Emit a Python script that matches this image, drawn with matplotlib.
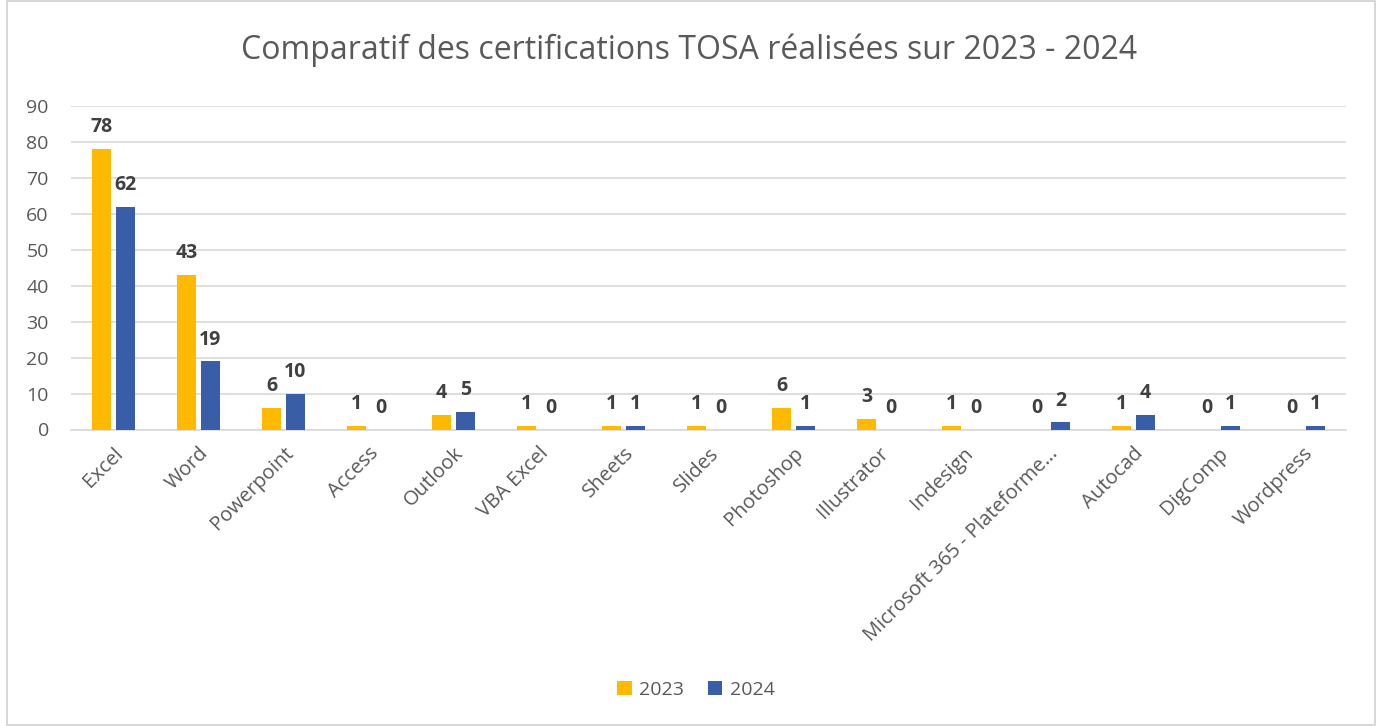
import matplotlib.pyplot as plt
import numpy as np
from matplotlib.patches import Rectangle

categories = ["Excel", "Word", "Powerpoint", "Access", "Outlook", "VBA Excel", "Sheets",
              "Slides", "Photoshop", "Illustrator", "Indesign",
              "Microsoft 365 - Plateforme…", "Autocad", "DigComp", "Wordpress"]
v2023 = [78, 43, 6, 1, 4, 1, 1, 1, 6, 3, 1, 0, 1, 0, 0]
v2024 = [62, 19, 10, 0, 5, 0, 1, 0, 1, 0, 0, 2, 4, 1, 1]
series_names = ["2023", "2024"]
colors = ["#FFB900", "#3A5DA8"]
yticks = [0, 10, 20, 30, 40, 50, 60, 70, 80, 90]

plt.rcParams['font.family'] = ['Open Sans', 'DejaVu Sans']

W, H = 1378, 726
fig = plt.figure(figsize=(W / 100, H / 100), dpi=100)
fig.patches.append(Rectangle((7 / W, 1 / H), (1375 - 7) / W, (H - 2) / H, transform=fig.transFigure,
                             fill=False, edgecolor="#d0d0d0", linewidth=1.2))
ax = fig.add_axes([71 / W, 1 - 429.5 / H, (1346 - 71) / W, (429.5 - 106) / H])

x = np.arange(len(categories))
w = 0.224
off = 0.141
bars1 = ax.bar(x - off, v2023, width=w, color=colors[0], label=series_names[0], zorder=3)
bars2 = ax.bar(x + off, v2024, width=w, color=colors[1], label=series_names[1], zorder=3)

for bars in (bars1, bars2):
    for b in bars:
        ax.annotate(f"{int(b.get_height())}", (b.get_x() + b.get_width() / 2, b.get_height()),
                    xytext=(0, 12), textcoords="offset points", ha="center", va="baseline",
                    fontsize=14, fontweight="bold", color="#404040")

ax.set_xlim(-0.5, len(categories) - 0.5)
ax.set_ylim(0, 90)
ax.set_yticks(yticks)
ax.yaxis.grid(True, color="#d9d9d9", linewidth=1.2, zorder=0)
ax.set_axisbelow(True)
for s in ["top", "right", "left"]:
    ax.spines[s].set_visible(False)
ax.spines["bottom"].set_color("#d9d9d9")
ax.spines["bottom"].set_linewidth(1.2)
ax.tick_params(axis="both", length=0, colors="#595959", labelsize=14)
ax.tick_params(axis="y", pad=16)
ax.set_xticks(x)
ax.set_xticklabels(categories, rotation=45, ha="right", rotation_mode="anchor", fontsize=14.5)
ax.tick_params(axis="x", pad=10)

fig.text(0.5, 1 - 50 / H, "Comparatif des certifications TOSA réalisées sur 2023 - 2024",
         ha="center", va="center", fontsize=23, color="#595959")

fig.legend(handles=[bars1, bars2], labels=series_names, loc="center", bbox_to_anchor=(0.505, 1 - 690 / H),
           ncol=2, frameon=False, fontsize=14, labelcolor="#595959",
           handlelength=0.75, handleheight=0.75, handletextpad=0.4, columnspacing=1.2)

fig.savefig("out.png", dpi=100)
